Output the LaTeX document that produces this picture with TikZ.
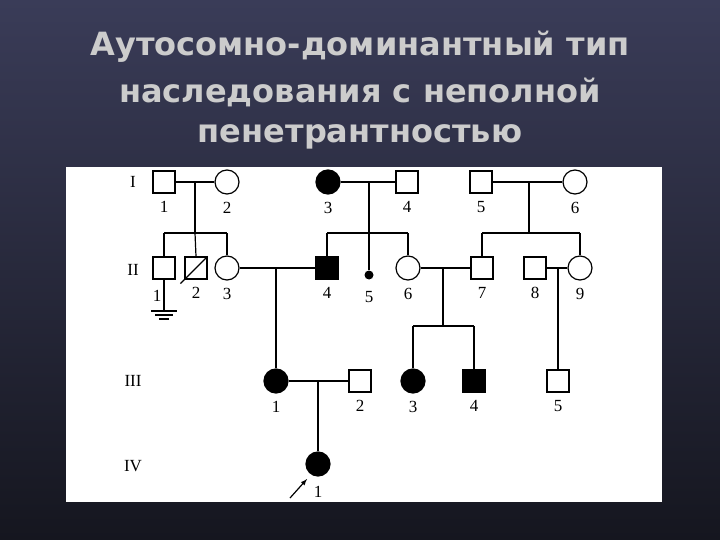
\documentclass[tikz,border=0pt]{standalone}
\usepackage{fontspec}
\setmainfont{Liberation Serif}
\newfontfamily\titlefont{DejaVu Sans}
\definecolor{bgtop}{HTML}{3A3C58}
\definecolor{bgbot}{HTML}{15161F}
\begin{document}
\begin{tikzpicture}[x=1pt,y=-1pt,
  sq/.style={draw,line width=1.2pt,minimum size=22pt,inner sep=0pt},
  ci/.style={draw,circle,line width=1.2pt,minimum size=24pt,inner sep=0pt},
  aff/.style={fill=black},
  ln/.style={line width=1.2pt},
  num/.style={font=\fontsize{17}{17}\selectfont},
  ttl/.style={font=\titlefont\bfseries\fontsize{32}{32}\selectfont,text=black!20!white}]
\shade[top color=bgtop, bottom color=bgbot] (0,0) rectangle (720,540);
\useasboundingbox (0,0) rectangle (720,540);
\fill[white] (66,167) rectangle (662,502);
\node[ttl] (t1) at (360,47) {Аутосомно-доминантный тип};
\node[ttl] (t2) at (360,92) {наследования с неполной};
\node[ttl] (t3) at (360,137) {пенетрантностью};
% generation labels
\foreach \r/\y in {I/182,II/270,III/381,IV/466} \node[num] (g\r) at (133,\y) {\r};
% gen I
\node[sq] (a1) at (164,182) {};
\node[ci] (a2) at (227,182) {};
\node[ci,aff] (a3) at (328,182) {};
\node[sq] (a4) at (407,182) {};
\node[sq] (a5) at (481,182) {};
\node[ci] (a6) at (575,182) {};
% gen II
\node[sq] (b1) at (164,268) {};
\node[sq] (b2) at (196,268) {};
\node[ci] (b3) at (227,268) {};
\node[sq,aff] (b4) at (327,268) {};
\node[circle,fill=black,minimum size=9pt,inner sep=0pt] (b5) at (369,275) {};
\node[ci] (b6) at (408,268) {};
\node[sq] (b7) at (482,268) {};
\node[sq] (b8) at (535,268) {};
\node[ci] (b9) at (580,268) {};
% gen III
\node[ci,aff] (c1) at (276,381) {};
\node[sq] (c2) at (360,381) {};
\node[ci,aff] (c3) at (413,381) {};
\node[sq,aff] (c4) at (474,381) {};
\node[sq] (c5) at (558,381) {};
% gen IV
\node[ci,aff] (d1) at (318,464) {};
% numbers
\foreach \n/\t in {a1/1,a2/2,a3/3,a4/4,a5/5,a6/6,b2/2,b3/3,b4/4,b6/6,b7/7,b8/8,b9/9,c1/1,c2/2,c3/3,c4/4,c5/5}
  \node[num,below=4pt] (l\n) at (\n.south) {\t};
\node[num] (lb1) at (157,296) {1};
\node[num] (lb5) at (369,297) {5};
\node[num] (ld1) at (318,492) {1};
% diagonal on II2
\coordinate (dg1) at ([shift={(-4,4)}]b2.south west);
\draw[ln] (dg1) -- (b2.north east);
% couples gen I
\draw[ln] (a1) -- (a2); \draw[ln] (a3) -- (a4); \draw[ln] (a5) -- (a6);
\coordinate (m1) at (195,182); \coordinate (s1) at (195,233);
\draw[ln] (m1) -- (s1); \draw[ln] (164,233) -- (227,233);
\draw[ln] (164,233) -- (b1.north); \draw[ln] (s1) -- (b2.north); \draw[ln] (227,233) -- (b3.north);
\coordinate (m2) at (369,182); \coordinate (s2) at (369,233);
\draw[ln] (m2) -- (s2); \draw[ln] (327,233) -- (408,233);
\draw[ln] (327,233) -- (b4.north); \draw[ln] (s2) -- (b5); \draw[ln] (408,233) -- (b6.north);
\coordinate (m3) at (529,182); \coordinate (s3) at (529,233);
\draw[ln] (m3) -- (s3); \draw[ln] (482,233) -- (580,233);
\draw[ln] (482,233) -- (b7.north); \draw[ln] (580,233) -- (b9.north);
% ground symbol
\coordinate (gr) at (164,311);
\draw[ln] (b1.south) -- (gr);
\draw[ln] (151,311) -- (177,311); \draw[ln] (155,315) -- (173,315); \draw[ln] (159,319) -- (169,319);
% couples gen II
\draw[ln] (b3) -- (b4); \draw[ln] (b6) -- (b7); \draw[ln] (b8) -- (b9);
\draw[ln] (276,268) -- (c1.north);
\coordinate (m5) at (443,268); \coordinate (s5) at (443,326);
\draw[ln] (m5) -- (s5); \draw[ln] (413,326) -- (474,326);
\draw[ln] (413,326) -- (c3.north); \draw[ln] (474,326) -- (c4.north);
\draw[ln] (558,268) -- (c5.north);
% gen III couple
\draw[ln] (c1) -- (c2);
\draw[ln] (318,381) -- (d1.north);
% proband arrow
\coordinate (ar) at (290,498);
\draw[line width=1.2pt,-{latex}] (ar) -- (307,479);
\end{tikzpicture}
\end{document}
